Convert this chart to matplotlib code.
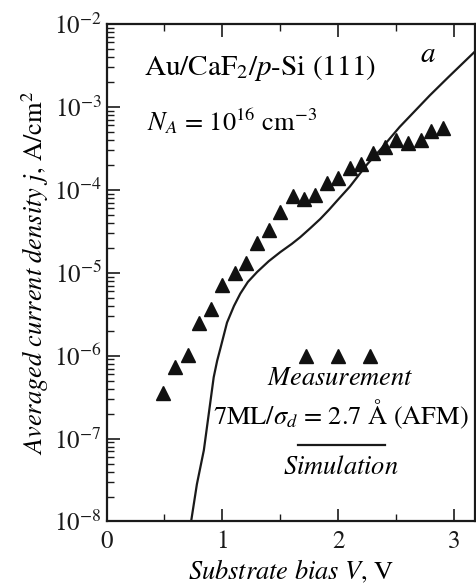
import matplotlib
matplotlib.use("Agg")
import matplotlib.pyplot as plt
import numpy as np
from matplotlib.ticker import LogLocator, MultipleLocator, LogFormatterMathtext, NullFormatter

plt.rcParams['font.family'] = ['STIXGeneral', 'DejaVu Serif']
plt.rcParams['mathtext.fontset'] = 'stix'

# Measurement data (triangles)
meas_v = [0.49, 0.59, 0.70, 0.80, 0.90, 1.00, 1.11, 1.20, 1.30, 1.40, 1.50, 1.61, 1.70,
          1.80, 1.90, 2.00, 2.10, 2.20, 2.30, 2.40, 2.50, 2.60, 2.71, 2.80, 2.90]
meas_j = [3.5e-7, 7.4e-7, 1.03e-6, 2.5e-6, 3.7e-6, 7.2e-6, 1.0e-5, 1.3e-5, 2.26e-5, 3.25e-5,
          5.4e-5, 8.4e-5, 7.8e-5, 8.6e-5, 1.2e-4, 1.38e-4, 1.86e-4, 2.04e-4, 2.75e-4, 3.3e-4,
          4.0e-4, 3.65e-4, 3.95e-4, 5.1e-4, 5.6e-4]

# Simulation curve (log10 j)
sim_v = [0.73, 0.78, 0.84, 0.925, 0.955, 0.985, 1.04, 1.10, 1.155, 1.22, 1.30, 1.40, 1.50,
         1.60, 1.672, 1.76, 1.845, 1.92, 1.99, 2.10, 2.25, 2.36, 2.53, 2.79, 2.95, 3.18]
sim_logj = [-8.0, -7.55, -7.14, -6.26, -6.06, -5.90, -5.60, -5.40, -5.25, -5.11, -4.99,
            -4.86, -4.75, -4.65, -4.57, -4.46, -4.35, -4.24, -4.13, -3.96, -3.69, -3.52,
            -3.24, -2.86, -2.64, -2.33]

# Legend marker positions and legend line
leg_v = [1.72, 2.0, 2.27]
leg_j = [1e-6, 1e-6, 1e-6]
leg_line_v = [1.655, 2.40]
leg_line_j = [8.3e-8, 8.3e-8]

fig = plt.figure(figsize=(4.77, 5.88), dpi=100)
ax = fig.add_axes([0.2233, 0.1131, 0.9958 - 0.2233, 0.959 - 0.1131])

ax.semilogy(sim_v, 10.0 ** np.array(sim_logj), color='#1a1a1a', lw=1.6)
ax.semilogy(meas_v, meas_j, linestyle='none', marker='^', color='#111111', markersize=10)
ax.semilogy(leg_v, leg_j, linestyle='none', marker='^', color='#111111', markersize=10)
ax.semilogy(leg_line_v, leg_line_j, color='#1a1a1a', lw=1.6)

ax.set_xlim(0, 3.18)
ax.set_ylim(1e-8, 1e-2)

ax.xaxis.set_major_locator(MultipleLocator(1))
ax.xaxis.set_minor_locator(MultipleLocator(0.5))
ax.yaxis.set_major_locator(LogLocator(base=10, numticks=20))
ax.yaxis.set_minor_locator(LogLocator(base=10, subs=np.arange(2, 10), numticks=20))
ax.yaxis.set_major_formatter(LogFormatterMathtext())
ax.yaxis.set_minor_formatter(NullFormatter())

ax.tick_params(axis='both', which='major', direction='in', length=9, width=1.2, labelsize=18,
               top=True, right=False, colors='#1a1a1a')
ax.tick_params(axis='both', which='minor', direction='in', length=5, width=1.0,
               top=True, right=False, colors='#1a1a1a')
ax.tick_params(axis='x', which='major', pad=6)
for s in ax.spines.values():
    s.set_linewidth(1.6)
    s.set_color('#1a1a1a')

ax.set_xlabel(r'$\mathit{Substrate\ bias\ V}$, V', fontsize=19, labelpad=3)
ax.set_ylabel(r'$\mathit{Averaged\ current\ density\ j}$, A/cm$^2$', fontsize=19, labelpad=2)

ax.text(0.32, 10 ** -2.53, r'Au/CaF$_2$/$p$-Si (111)', fontsize=21, ha='left', va='center')
ax.text(0.35, 10 ** -3.17, r'$N_A$ = 10$^{16}$ cm$^{-3}$', fontsize=19, ha='left', va='center')
ax.text(2.77, 10 ** -2.38, r'$a$', fontsize=21, ha='center', va='center')
ax.text(2.02, 10 ** -6.28, r'$\mathit{Measurement}$', fontsize=19, ha='center', va='center')
ax.text(2.02, 10 ** -6.71, r'7ML/$\sigma_d$ = 2.7 Å (AFM)', fontsize=19, ha='center', va='center')
ax.text(2.02, 10 ** -7.36, r'$\mathit{Simulation}$', fontsize=19, ha='center', va='center')

fig.savefig('out.png', dpi=100)
